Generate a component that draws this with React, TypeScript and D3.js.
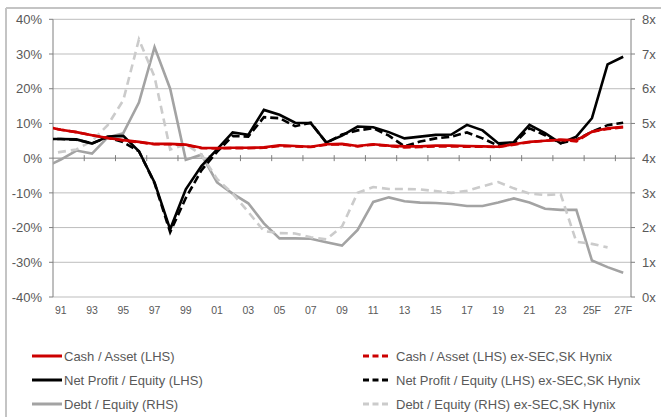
import React from "react";
import * as d3 from "d3";

const years = [1990, 1991, 1992, 1993, 1994, 1995, 1996, 1997, 1998, 1999, 2000, 2001, 2002, 2003, 2004, 2005, 2006, 2007, 2008, 2009, 2010, 2011, 2012, 2013, 2014, 2015, 2016, 2017, 2018, 2019, 2020, 2021, 2022, 2023, 2024, 2025, 2026, 2027];

const tickLabels = ["91", "93", "95", "97", "99", "01", "03", "05", "07", "09", "11", "13", "15", "17", "19", "21", "23", "25F", "27F"];
const tickLabelYears = [1991, 1993, 1995, 1997, 1999, 2001, 2003, 2005, 2007, 2009, 2011, 2013, 2015, 2017, 2019, 2021, 2023, 2025, 2027];

const leftTicks = [40, 30, 20, 10, 0, -10, -20, -30, -40];
const rightTicks = [8, 7, 6, 5, 4, 3, 2, 1, 0];

// Cash / Asset (LHS), %
const cashAsset = [9.1, 8.2, 7.5, 6.6, 5.8, 5.2, 4.7, 4.1, 4.1, 3.9, 3.0, 2.9, 3.0, 3.0, 3.1, 3.7, 3.5, 3.3, 4.0, 4.1, 3.5, 4.0, 3.6, 3.4, 3.4, 3.6, 3.6, 3.5, 3.4, 3.3, 4.0, 4.7, 5.0, 5.3, 5.2, 7.6, 8.6, 9.0];
const cashAssetEx = [9.1, 8.2, 7.5, 6.6, 5.8, 5.1, 4.6, 4.0, 4.0, 3.8, 2.9, 2.8, 2.9, 2.9, 3.0, 3.5, 3.4, 3.2, 3.9, 4.0, 3.4, 3.9, 3.5, 3.1, 3.2, 3.4, 3.4, 3.3, 3.3, 3.2, 3.9, 4.6, 5.0, 5.3, 4.8, 7.6, 8.4, 8.9];
// Net Profit / Equity (LHS), %
const netProfit = [5.5, 5.5, 5.4, 4.2, 6.2, 6.4, 2.0, -7.0, -20.5, -9.0, -2.3, 2.5, 7.4, 6.7, 13.9, 12.5, 10.2, 10.1, 4.5, 6.5, 9.1, 8.9, 7.5, 5.7, 6.2, 6.7, 6.8, 9.6, 8.0, 4.3, 4.6, 9.6, 7.2, 4.3, 6.2, 11.5, 27.0, 29.2];
const netProfitEx = [5.5, 5.5, 5.3, 4.3, 6.0, 4.6, 2.0, -7.2, -21.3, -11.5, -3.5, 1.8, 6.4, 6.2, 11.8, 11.5, 9.2, 10.2, 4.4, 6.8, 8.0, 8.6, 6.5, 3.4, 4.8, 5.7, 6.2, 7.4, 5.7, 3.6, 4.2, 8.6, 6.6, 4.3, 5.3, 7.6, 9.5, 10.2];
// Debt / Equity (RHS), x
const debtEquity = [3.74, 3.96, 4.22, 4.13, 4.6, 4.72, 5.6, 7.2, 6.0, 3.95, 4.1, 3.3, 2.98, 2.7, 2.12, 1.69, 1.69, 1.68, 1.58, 1.48, 1.93, 2.74, 2.87, 2.76, 2.72, 2.71, 2.68, 2.62, 2.62, 2.72, 2.84, 2.72, 2.54, 2.51, 2.51, 1.05, 0.86, 0.70];
const debtEquityEx = [4.1, 4.18, 4.25, 4.5, 4.95, 5.67, 7.42, 6.34, 4.25, 4.4, 4.1, 3.4, 2.98, 2.45, 1.9, 1.84, 1.83, 1.72, 1.66, 2.03, 3.0, 3.17, 3.11, 3.11, 3.1, 3.05, 3.0, 3.06, 3.19, 3.31, 3.13, 2.98, 2.94, 2.96, 1.59, 1.53, 1.43, null];

const W = 667;
const H = 417;
const X0 = 53;
const X1 = 631;
const YT = 19.3;
const YB = 297;

const FONT = "'Liberation Sans', Arial, sans-serif";
const LABEL = "#595959";

const x = d3.scaleLinear().domain([1989.5 + 1, 2027.5]).range([X0, X1]);
const yL = d3.scaleLinear().domain([-40, 40]).range([YB, YT]);
const yR = d3.scaleLinear().domain([0, 8]).range([YB, YT]);

type S = { name: string; values: (number | null)[]; axis: "L" | "R"; color: string; dash?: string; legendCol: number; legendRow: number };

const series: S[] = [
  { name: "Debt / Equity (RHS)", values: debtEquity, axis: "R", color: "#a3a3a3", legendCol: 0, legendRow: 2 },
  { name: "Debt / Equity (RHS) ex-SEC,SK Hynix", values: debtEquityEx, axis: "R", color: "#cbcbcb", dash: "8,5", legendCol: 1, legendRow: 2 },
  { name: "Net Profit / Equity (LHS)", values: netProfit, axis: "L", color: "#000000", legendCol: 0, legendRow: 1 },
  { name: "Net Profit / Equity (LHS) ex-SEC,SK Hynix", values: netProfitEx, axis: "L", color: "#000000", dash: "8,4", legendCol: 1, legendRow: 1 },
  { name: "Cash / Asset (LHS)", values: cashAsset, axis: "L", color: "#cc0000", legendCol: 0, legendRow: 0 },
  { name: "Cash / Asset (LHS) ex-SEC,SK Hynix", values: cashAssetEx, axis: "L", color: "#cc0000", dash: "8,4", legendCol: 1, legendRow: 0 },
];

const legendRowsY = [356, 380, 404];
const legendCols = [
  { x1: 32, x2: 62, tx: 64 },
  { x1: 363, x2: 391, tx: 396 },
];

export default function App() {
  const xTickPos: number[] = [];
  for (let b = 1992.5; b < 2027.5; b += 2) xTickPos.push(x(b));

  const makePath = (s: S) => {
    const sc = s.axis === "L" ? yL : yR;
    const gen = d3
      .line<number | null>()
      .defined((d) => d != null)
      .x((_, i) => x(years[i]))
      .y((d) => sc(d as number));
    return gen(s.values) || "";
  };

  return (
    <svg width={W} height={H} style={{ position: "absolute", left: 0, top: 0, background: "#fff" }} fontFamily={FONT}>
      <defs>
        <clipPath id="plotClip">
          <rect x={X0} y={0} width={X1 - X0} height={H} />
        </clipPath>
      </defs>
      {/* frame */}
      <line x1={6} y1={8} x2={661} y2={8} stroke="#c4c4c4" strokeWidth={2} />
      <line x1={6} y1={8} x2={6} y2={H} stroke="#c4c4c4" strokeWidth={2} />

      {/* gridlines */}
      {leftTicks.map((t) => (
        <line key={"g" + t} x1={X0} x2={X1} y1={yL(t)} y2={yL(t)} stroke={t === 0 ? "#7f7f7f" : "#bdbdbd"} strokeWidth={1} />
      ))}

      {/* left axis */}
      <line x1={X0} x2={X0} y1={YT} y2={YB} stroke="#7f7f7f" strokeWidth={1} />
      {leftTicks.map((t) => (
        <g key={"l" + t}>
          <line x1={X0 - 4} x2={X0} y1={yL(t)} y2={yL(t)} stroke="#7f7f7f" />
          <text x={42} y={yL(t)} dy="0.36em" textAnchor="end" fontSize={13} fill={LABEL}>
            {t + "%"}
          </text>
        </g>
      ))}

      {/* right axis */}
      <line x1={X1} x2={X1} y1={YT} y2={YB} stroke="#7f7f7f" strokeWidth={1} />
      {rightTicks.map((t) => (
        <g key={"r" + t}>
          <line x1={X1} x2={X1 + 4} y1={yR(t)} y2={yR(t)} stroke="#7f7f7f" />
          <text x={642} y={yR(t)} dy="0.36em" textAnchor="start" fontSize={13} fill={LABEL}>
            {t + "x"}
          </text>
        </g>
      ))}

      {/* x axis ticks */}
      {xTickPos.map((p, i) => (
        <line key={"xt" + i} x1={p} x2={p} y1={yL(0) - 3} y2={yL(0) + 3} stroke="#7f7f7f" />
      ))}
      {tickLabels.map((lab, i) => (
        <text key={"xl" + i} x={x(tickLabelYears[i])} y={314} textAnchor="middle" fontSize={10.5} fill={LABEL}>
          {lab}
        </text>
      ))}

      {/* series */}
      <g clipPath="url(#plotClip)">
        {series.map((s, i) => (
          <path key={"s" + i} d={makePath(s)} fill="none" stroke={s.color} strokeWidth={2.6} strokeDasharray={s.dash} strokeLinejoin="miter" />
        ))}
      </g>

      {/* legend */}
      {series.map((s, i) => {
        const c = legendCols[s.legendCol];
        const y = legendRowsY[s.legendRow];
        return (
          <g key={"lg" + i}>
            <line x1={c.x1} x2={c.x2} y1={y} y2={y} stroke={s.color} strokeWidth={3} strokeDasharray={s.dash ? "6,3.5" : undefined} />
            <text x={c.tx} y={y} dy="0.36em" fontSize={13} fill={LABEL}>
              {s.name}
            </text>
          </g>
        );
      })}
    </svg>
  );
}
